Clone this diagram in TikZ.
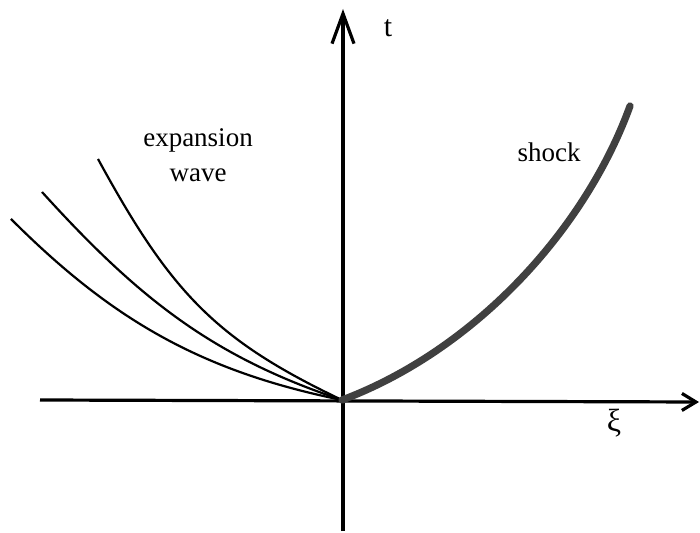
\documentclass[tikz,border=0pt]{standalone}
\usepackage{fontspec}
\setmainfont{Liberation Serif}
\usetikzlibrary{arrows.meta}

\begin{document}
\begin{tikzpicture}[x=0.5pt,y=-0.5pt,
  axis/.style={line width=1.6pt},
  wave/.style={line width=1.1pt},
  shockline/.style={black!75,line width=3.6pt,line cap=round},
  lbl/.style={font=\fontsize{13.5}{17.5}\selectfont,inner sep=0pt}]
\useasboundingbox (0,0) rectangle (700,533);

% axes
\coordinate (O) at (342,400);
\coordinate (xl) at (40,400);
\coordinate (xr) at (699,402);
\coordinate (yb) at (343,531);
\coordinate (yt) at (343,9);
\draw[axis,-{Straight Barb[length=7pt,width=8.5pt,line width=1.6pt]}] (xl) -- (xr);
\draw[axis,-{Straight Barb[length=15pt,width=11pt,line width=1.6pt]}] (yb) -- (yt);

\node[lbl] (t) at (388,28) {\fontsize{15}{18}\selectfont t};
\node[lbl] (xi) at (614,423) {\fontsize{16}{18}\selectfont ξ};

% expansion wave
\draw[wave] (O) .. controls (216,340) and (171,293) .. (98,159);
\draw[wave] (O) .. controls (213,357) and (139,299) .. (42,192);
\draw[wave] (O) .. controls (199,371) and (110,318) .. (11,219);
\node[lbl,align=center] (exp) at (198,155) {expansion\\wave};

% shock
\draw[shockline] (O) .. controls (475,350) and (585,230) .. (630,106);
\node[lbl] (shk) at (549,152) {shock};
\end{tikzpicture}
\end{document}
